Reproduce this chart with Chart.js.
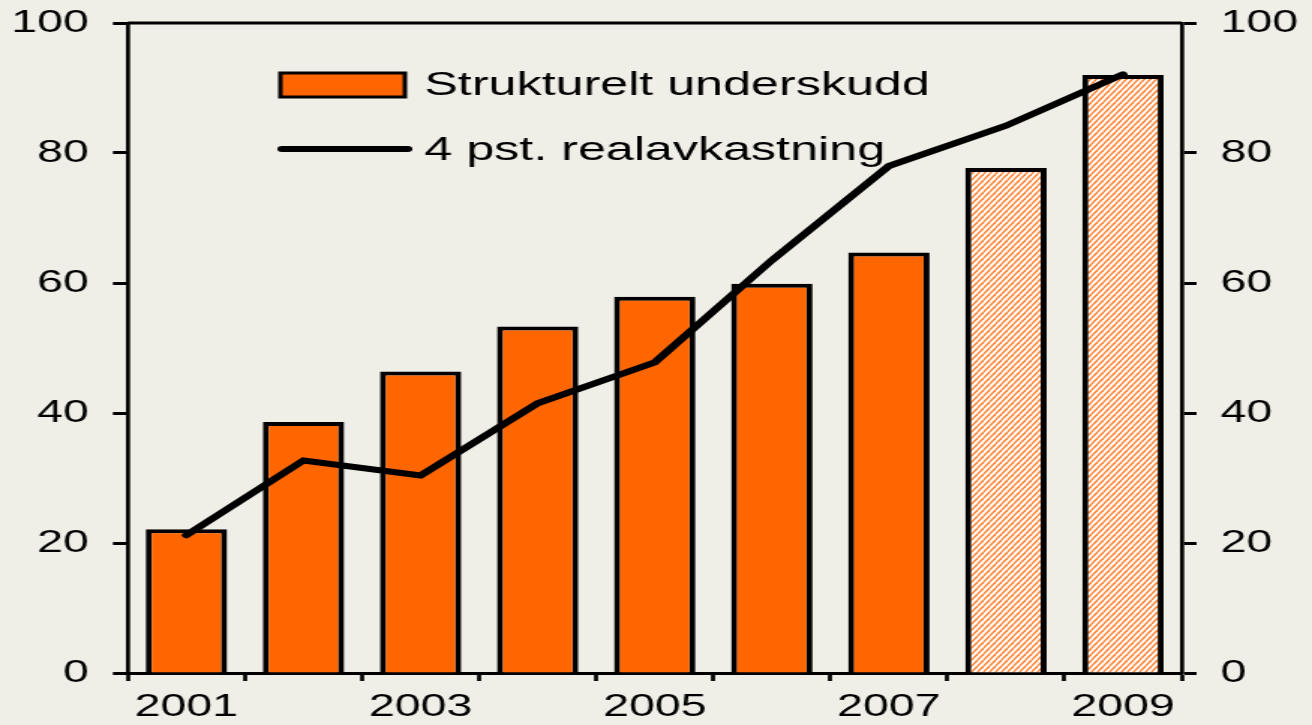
<!DOCTYPE html>
<html>
<head>
<meta charset="utf-8">
<script src="https://cdn.jsdelivr.net/npm/chart.js@4.4.0/dist/chart.umd.min.js"></script>
<style>
  html, body { margin: 0; padding: 0; background: #efeee7; overflow: hidden; }
  #chart { display: block; }
</style>
</head>
<body>
<canvas id="chart" width="875" height="725" style="width:1312px;height:725px"></canvas>
<script>
// data
var years = ['2001', '2002', '2003', '2004', '2005', '2006', '2007', '2008', '2009'];
var underskudd = [22.1, 38.6, 46.4, 53.3, 57.9, 59.9, 64.7, 77.7, 92.0];
var realavkastning = [21.2, 32.7, 30.4, 41.5, 47.8, 63.5, 78.0, 84.2, 92.1];
var anslag = [false, false, false, false, false, false, false, true, true]; // hatched bars
var yTicks = [0, 20, 40, 60, 80, 100];

var orange = '#ff6600';

// striped fill for the projected years
function makeHatch() {
    var c = document.createElement('canvas');
    c.width = 4;
    c.height = 6;
    var g = c.getContext('2d');
    g.fillStyle = '#ffffff';
    g.fillRect(0, 0, 4, 6);
    g.strokeStyle = '#ff7a26';
    g.lineWidth = 1.3;
    for (var k = -1; k <= 1; k++) {
        g.beginPath();
        g.moveTo(k * 4, 6);
        g.lineTo(k * 4 + 4, 0);
        g.stroke();
    }
    return g.createPattern(c, 'repeat');
}
var hatch = makeHatch();

var barColors = anslag.map(function (a) { return a ? hatch : orange; });

// legend inside the plot + top frame line
var framePlugin = {
    id: 'frame',
    afterDraw: function (chart) {
        var ctx = chart.ctx;
        var area = chart.chartArea;
        ctx.save();
        ctx.strokeStyle = '#000';
        ctx.lineWidth = 3;
        ctx.beginPath();
        ctx.moveTo(area.left, area.top);
        ctx.lineTo(area.right, area.top);
        ctx.stroke();

        // legend
        var ds = chart.data.datasets;
        ctx.font = '33.5px "Liberation Sans", Arial, sans-serif';
        ctx.textBaseline = 'middle';

        ctx.fillStyle = orange;
        ctx.fillRect(187, 73, 83, 24);
        ctx.lineWidth = 3;
        ctx.strokeStyle = '#000';
        ctx.strokeRect(187, 73, 83, 24);
        ctx.fillStyle = '#000';
        ctx.fillText(ds[1].label, 283, 86);

        ctx.lineWidth = 6;
        ctx.lineCap = 'round';
        ctx.beginPath();
        ctx.moveTo(188, 149);
        ctx.lineTo(272, 149);
        ctx.stroke();
        ctx.fillText(ds[0].label, 283, 151);
        ctx.restore();
    }
};

var tickFont = { family: '"Liberation Sans", Arial, sans-serif', size: 31 };

function yAxis(pos, w) {
    return {
        position: pos,
        min: 0,
        max: 100,
        afterBuildTicks: function (s) { s.ticks = yTicks.map(function (v) { return { value: v }; }); },
        afterFit: function (s) {
            s.width = w;
            s.paddingTop = 0;
            s.paddingBottom = 0;
        },
        ticks: { font: tickFont, color: '#000', padding: 16 },
        grid: { drawOnChartArea: false, tickLength: 10, tickWidth: 3, tickColor: '#000' },
        border: { color: '#000', width: 2.7 }
    };
}

var ctx = document.getElementById('chart').getContext('2d');
var chart = new Chart(ctx, {
    data: {
        labels: years,
        datasets: [{
            type: 'line',
            label: '4 pst. realavkastning',
            data: realavkastning,
            borderColor: '#000',
            borderWidth: 6,
            pointRadius: 0,
            tension: 0,
            borderCapStyle: 'round',
            yAxisID: 'y',
            order: 0
        }, {
            type: 'bar',
            label: 'Strukturelt underskudd',
            data: underskudd,
            backgroundColor: barColors,
            borderColor: '#000',
            borderWidth: 4,
            barPercentage: 0.695,
            categoryPercentage: 1,
            yAxisID: 'y',
            order: 1
        }]
    },
    options: {
        responsive: false,
        devicePixelRatio: 1,
        animation: false,
        layout: { padding: { top: 23, left: 0, right: 0, bottom: 0 } },
        plugins: { legend: { display: false }, tooltip: { enabled: false } },
        scales: {
            x: {
                type: 'category',
                offset: true,
                afterFit: function (s) {
                    s.height = 52;
                    s.paddingLeft = 0;
                    s.paddingRight = 0;
                },
                ticks: {
                    font: tickFont,
                    color: '#000',
                    autoSkip: false,
                    maxRotation: 0,
                    padding: 8,
                    callback: function (v, i) { return i % 2 === 0 ? years[i] : ''; }
                },
                grid: { offset: true, drawOnChartArea: false, tickLength: 8, tickWidth: 2.7, tickColor: '#000' },
                border: { color: '#000', width: 3 }
            },
            y: yAxis('left', 85.3),
            y2: yAxis('right', 87)
        }
    },
    plugins: [framePlugin]
});
</script>
</body>
</html>
